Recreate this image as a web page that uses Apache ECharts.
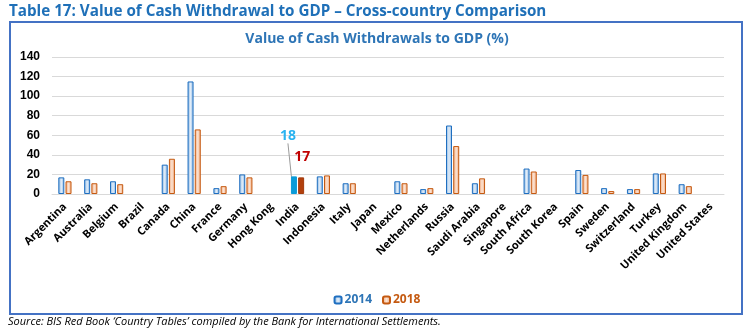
<!DOCTYPE html>
<html><head><meta charset="utf-8">
<script src="https://cdn.jsdelivr.net/npm/echarts@6/dist/echarts.min.js"></script>
<style>html,body{margin:0;padding:0;background:#fff;}#c{width:754px;height:336px;}</style>
</head><body><div id="c"></div>
<script>
const categories = ['Argentina','Australia','Belgium','Brazil','Canada','China','France','Germany','Hong Kong','India','Indonesia','Italy','Japan','Mexico','Netherlands','Russia','Saudi Arabia','Singapore','South Africa','South Korea','Spain','Sweden','Switzerland','Turkey','United Kingdom','United States'];
const values2014 = [17,15,13,null,30,115,6,20,null,18,18,11,null,13,5,70,11,null,26,null,24.5,6,5,21,10,null];
const values2018 = [13,11,10,null,36,66,8,17,null,17,19,11,null,11,6,49,16,null,23,null,19.5,3,5,21,8,null];
const yTicks = [0,20,40,60,80,100,120,140];
const highlight = 'India';

const FONT = '"Open Sans",sans-serif';
const hIdx = categories.indexOf(highlight);

function grad(c1, c2){
  return new echarts.graphic.LinearGradient(0,0,1,0,[{offset:0,color:c1},{offset:0.5,color:c2},{offset:1,color:c1}]);
}
function build(vals, special){
  return vals.map((v,i)=> i===hIdx ? {value:v, itemStyle:special.itemStyle, label:special.label} : v);
}
const chart = echarts.init(document.getElementById('c'), null, {renderer:'canvas'});
chart.setOption({
  animation:false,
  graphic:[
    {type:'rect', shape:{x:10,y:22,width:732,height:292}, style:{fill:'none',stroke:'#4472C4',lineWidth:2}, z:-1},
    {type:'text', x:9, y:3, scaleX:0.95, style:{text:'Table 17: Value of Cash Withdrawal to GDP – Cross-country Comparison', fill:'#1F70B8', font:'bold 16px '+FONT}},
    {type:'text', x:8, y:316, style:{text:'Source: BIS Red Book ‘Country Tables’ compiled by the Bank for International Settlements.', fill:'#000', font:'italic 11px '+FONT}}
  ],
  title:{text:'Value of Cash Withdrawals to GDP (%)', left:'center', top:27, textStyle:{color:'#2E75B6', fontSize:14, fontWeight:'bold', fontFamily:FONT}},
  legend:{top:289, left:'center', itemWidth:7, itemHeight:7, itemGap:10,
    data:[{name:'2014', textStyle:{color:'#2E75B6'}},{name:'2018', textStyle:{color:'#C55A11'}}],
    textStyle:{fontSize:12, fontWeight:'bold', fontFamily:FONT, padding:[0,0,0,-2]}},
  grid:{left:52, right:30, top:57, height:137, containLabel:false},
  xAxis:{type:'category', data:categories,
    axisLine:{lineStyle:{color:'#D9D9D9'}}, axisTick:{show:false},
    axisLabel:{rotate:45, interval:0, margin:11, color:'#000', fontWeight:'bold', fontSize:11, fontFamily:FONT}},
  yAxis:{type:'value', min:0, max:140, interval:20,
    axisLabel:{color:'#000', fontWeight:'bold', fontSize:12, margin:12, fontFamily:'"Liberation Sans",sans-serif',
      formatter:v=> yTicks.includes(v)? String(v):''},
    splitLine:{lineStyle:{color:'#D9D9D9'}}, axisLine:{show:false}, axisTick:{show:false}},
  series:[
    {name:'2014', type:'bar', barWidth:6, barGap:'20%',
      itemStyle:{color:grad('#7FAFE0','#E3EEF9'), borderColor:'#1F6FC0', borderWidth:1},
      data: build(values2014, {itemStyle:{color:'#0A9BD8', borderColor:'#0A9BD8'},
        label:{show:true, position:'top', color:'#2AB3F0', fontSize:14, fontWeight:'bold', fontFamily:FONT}}),
      labelLayout:(p)=> p.dataIndex===hIdx ? {dx:-6, dy:-28} : {},
      labelLine:{show:true, lineStyle:{color:'#999', width:1}}
    },
    {name:'2018', type:'bar', barWidth:6,
      itemStyle:{color:grad('#F0A77A','#FBE3D3'), borderColor:'#C55A11', borderWidth:1},
      data: build(values2018, {itemStyle:{color:'#B2400D', borderColor:'#A33A0C'},
        label:{show:true, position:'top', color:'#C00000', fontSize:14, fontWeight:'bold', fontFamily:FONT}}),
      labelLayout:(p)=> p.dataIndex===hIdx ? {dx:1, dy:-8} : {}
    }
  ]
});
</script></body></html>
